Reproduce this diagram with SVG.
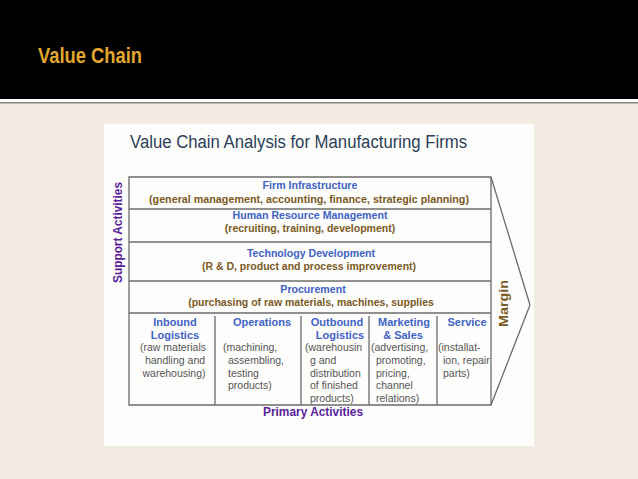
<svg xmlns="http://www.w3.org/2000/svg" width="638" height="479" viewBox="0 0 638 479">
<style>
.frame{fill:none;stroke:#6b6b6b;stroke-width:1.3}
.hd{font-family:"Liberation Sans",Arial,sans-serif;font-weight:bold;fill:#4163c4;text-anchor:middle}
.sub{font-family:"Liberation Sans",Arial,sans-serif;font-weight:bold;fill:#7b5a1f;text-anchor:middle;font-size:10.5px}
.pt{font-family:"Liberation Sans",Arial,sans-serif;fill:#555;font-size:10.5px}
.ph{font-family:"Liberation Sans",Arial,sans-serif;font-weight:bold;fill:#4163c4;text-anchor:middle;font-size:11px}
.pu{font-family:"Liberation Sans",Arial,sans-serif;font-weight:bold;fill:#5a1f9c;font-size:12px}
</style>
<rect x="0" y="0" width="638" height="479" fill="#f2ebe2"/>
<rect x="0" y="0" width="638" height="99" fill="#000"/>
<rect x="0" y="99" width="638" height="3" fill="#fff"/>
<rect x="0" y="102" width="638" height="1.5" fill="#8a8680"/>
<text x="38" y="63" font-family="Liberation Sans,Arial,sans-serif" font-weight="bold" font-size="22" fill="#e2a72e" textLength="104" lengthAdjust="spacingAndGlyphs">Value Chain</text>
<rect x="104" y="124" width="430" height="322" fill="#fdfdfc"/>
<text x="130" y="148" font-family="Liberation Sans,Arial,sans-serif" font-size="18" fill="#2b3f58" textLength="337" lengthAdjust="spacingAndGlyphs">Value Chain Analysis for Manufacturing Firms</text>

<g id="connectors">
<path class="frame" d="M129,177 H491 L530,305 L491,405 H129 Z"/>
<line class="frame" x1="491" y1="177" x2="491" y2="405"/>
<line class="frame" x1="129" y1="209" x2="491" y2="209"/>
<line class="frame" x1="129" y1="242" x2="491" y2="242"/>
<line class="frame" x1="129" y1="281" x2="491" y2="281"/>
<line class="frame" x1="129" y1="313" x2="491" y2="313"/>
<line class="frame" x1="215" y1="316" x2="215" y2="405"/>
<line class="frame" x1="301" y1="316" x2="301" y2="405"/>
<line class="frame" x1="369" y1="316" x2="369" y2="405"/>
<line class="frame" x1="437" y1="316" x2="437" y2="405"/>
</g>

<g id="firm-infrastructure">
<text class="hd" x="310" y="189" font-size="10.6">Firm Infrastructure</text>
<text class="sub" x="309" y="203" textLength="320" lengthAdjust="spacingAndGlyphs">(general management, accounting, finance, strategic planning)</text>
</g>
<g id="hrm">
<text class="hd" x="310" y="219" font-size="10.6">Human Resource Management</text>
<text class="sub" x="310" y="232">(recruiting, training, development)</text>
</g>
<g id="technology">
<text class="hd" x="311" y="257" font-size="10.6">Technology Development</text>
<text class="sub" x="309" y="270">(R &amp; D, product and process improvement)</text>
</g>
<g id="procurement">
<text class="hd" x="313" y="293" font-size="10.6">Procurement</text>
<text class="sub" x="311" y="306">(purchasing of raw materials, machines, supplies</text>
</g>

<g id="inbound">
<text class="ph" x="175" y="326">Inbound</text>
<text class="ph" x="175" y="339">Logistics</text>
<text class="pt" x="173" y="351" text-anchor="middle">(raw materials</text>
<text class="pt" x="175" y="364" text-anchor="middle">handling and</text>
<text class="pt" x="174" y="377" text-anchor="middle">warehousing)</text>
</g>
<g id="operations">
<text class="ph" x="262" y="326">Operations</text>
<text class="pt" x="223" y="351">(machining,</text>
<text class="pt" x="228" y="364">assembling,</text>
<text class="pt" x="228" y="377">testing</text>
<text class="pt" x="228" y="389">products)</text>
</g>
<g id="outbound">
<text class="ph" x="337" y="326">Outbound</text>
<text class="ph" x="340" y="339">Logistics</text>
<text class="pt" x="305" y="351">(warehousin</text>
<text class="pt" x="310" y="364">g and</text>
<text class="pt" x="310" y="377">distribution</text>
<text class="pt" x="310" y="389">of finished</text>
<text class="pt" x="310" y="402">products)</text>
</g>
<g id="marketing">
<text class="ph" x="404" y="326">Marketing</text>
<text class="ph" x="403" y="339">&amp; Sales</text>
<text class="pt" x="371" y="351">(advertising,</text>
<text class="pt" x="376" y="364">promoting,</text>
<text class="pt" x="376" y="377">pricing,</text>
<text class="pt" x="376" y="389">channel</text>
<text class="pt" x="376" y="402">relations)</text>
</g>
<g id="service">
<text class="ph" x="467" y="326">Service</text>
<text class="pt" x="438" y="351">(installat-</text>
<text class="pt" x="443" y="364">ion, repair</text>
<text class="pt" x="443" y="377">parts)</text>
</g>

<text class="pu" x="313" y="416" text-anchor="middle" textLength="100" lengthAdjust="spacingAndGlyphs">Primary Activities</text>
<text class="pu" transform="translate(121.5,232.5) rotate(-90)" text-anchor="middle" textLength="101" lengthAdjust="spacingAndGlyphs">Support Activities</text>
<text transform="translate(507.5,303.5) rotate(-90)" text-anchor="middle" font-family="Liberation Sans,Arial,sans-serif" font-weight="bold" font-size="13.5" fill="#7b5a1f" textLength="47" lengthAdjust="spacingAndGlyphs">Margin</text>
</svg>
